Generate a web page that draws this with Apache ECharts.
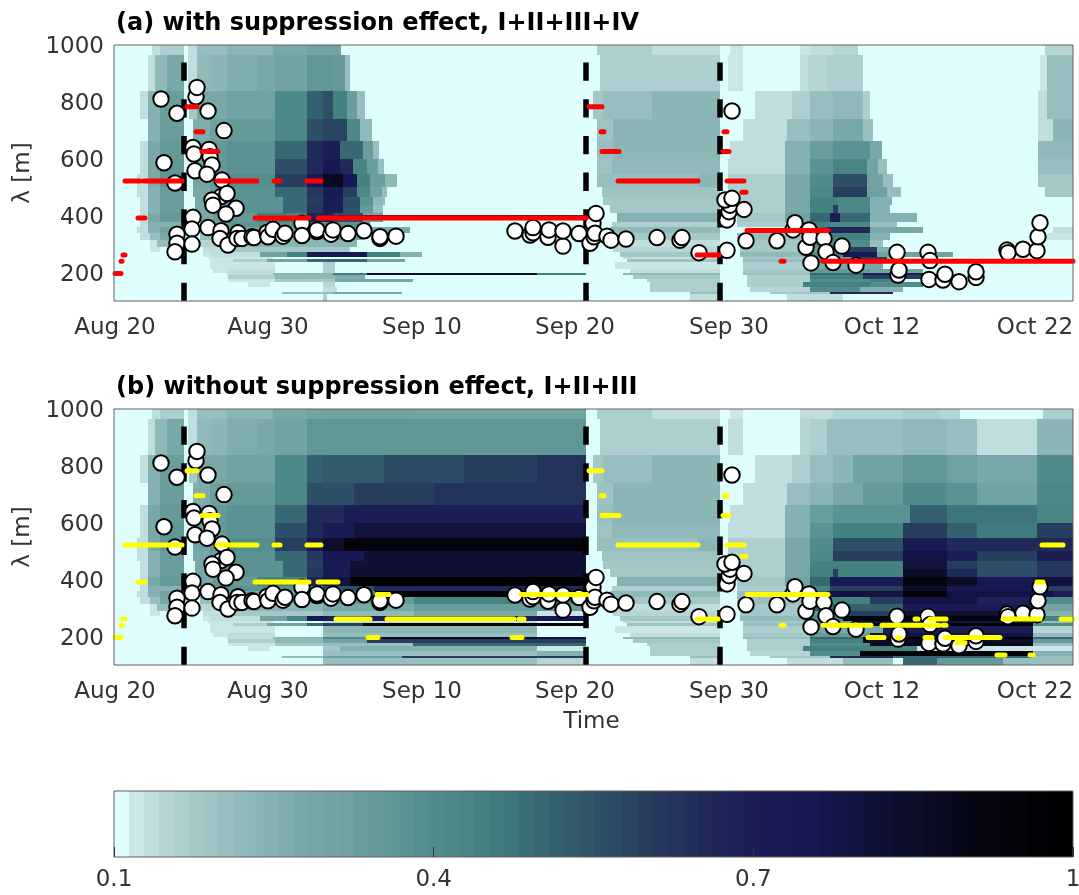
<!DOCTYPE html>
<html><head><meta charset="utf-8">
<style>html,body{margin:0;padding:0;background:#fff}#c{width:1079px;height:895px}canvas{filter:blur(0.45px)}</style>
<script src="https://cdn.jsdelivr.net/npm/echarts@6/dist/echarts.min.js"></script>
</head><body><div id="c"></div>
<script>
// x is a sample index along the (non-calendar) time axis
const tickPos=[1,154,308,461,615,768,921];
const tickLabels=['Aug 20','Aug 30','Sep 10','Sep 20','Sep 30','Oct 12','Oct 22'];
const xMax=959;
const yTicks=[200,400,600,800,1000];
const storms=[70,472,606];
const bandEdges=[1000,965,838,739,662,598,545,502,467,437,411,401,389,379,359,338,314,291,271,256,246,236,211,200,191,177,168,150,133,126,100];
// each row: x0, v, x1, v, x2 ... (v=0 leaves a gap)
const heatRowsA=[
[38,.13,46,.17,70,0,74,.14,83,.2,113,.23,159,.27,193,.31,227,0,483,.16,538,.13,606,0,616,.12,629,0,686,.12,696,.13,719,.15,744,0,931,.15,959],
[34,.13,41,.22,53,.28,70,0,74,.14,83,.22,99,.24,113,.26,143,.27,161,.31,193,.36,219,.35,231,.2,236,0,486,.17,606,0,614,.12,629,0,686,.13,694,.15,713,.17,749,0,926,.12,933,.2,959],
[26,.14,34,.25,46,.33,70,0,75,.18,83,.28,113,.31,161,.41,193,.52,209,.55,219,.45,233,.33,243,.2,251,0,479,.18,489,.2,538,.23,606,0,641,.13,678,.17,696,.2,719,.22,749,.17,756,0,924,.13,933,.21,959],
[34,.25,46,.33,70,0,79,.26,96,.32,113,.34,161,.41,193,.55,209,.58,233,.41,246,.22,258,0,483,.19,499,.23,606,0,629,.13,673,.2,696,.24,719,.28,749,.2,759,0,924,.14,939,.24,959],
[26,.14,34,.27,46,.35,70,0,81,.3,96,.34,113,.37,161,.5,193,.65,209,.7,226,.5,249,.33,259,.2,265,0,483,.2,499,.23,606,0,616,.13,671,.25,696,.33,719,.38,756,.28,768,0,924,.22,959],
[26,.14,34,.27,46,.36,70,0,81,.3,96,.35,113,.38,161,.55,193,.65,209,.75,226,.65,239,.43,253,.33,264,.2,270,0,483,.19,498,.22,606,0,614,.14,671,.25,696,.37,719,.43,753,.3,764,.2,773,0,924,.2,959],
[23,.14,34,.27,46,.36,70,0,79,.31,96,.35,113,.39,161,.6,193,.75,209,.88,229,.75,243,.45,256,.33,271,.22,283,0,483,.2,584,.24,606,0,614,.16,671,.27,696,.4,719,.55,753,.3,769,.2,779,0,924,.18,959],
[23,.14,34,.25,46,.33,70,0,79,.28,96,.33,113,.37,161,.5,193,.62,209,.72,229,.6,243,.42,256,.3,268,.2,273,0,488,.19,606,0,614,.16,671,.27,696,.42,719,.6,753,.32,773,.2,787,0,931,.18,959],
[26,.14,34,.25,46,.33,70,0,81,.28,96,.33,113,.37,169,.5,193,.6,209,.7,229,.55,246,.38,259,.22,271,0,489,.18,606,0,614,.16,671,.27,696,.45,724,.42,756,.25,778],
[26,.14,34,.25,46,.33,70,0,81,.28,96,.34,113,.38,169,.5,193,.62,209,.7,229,.55,246,.35,259,.2,269,0,496,.18,606,0,619,.16,671,.28,696,.45,719,.6,724,.42,756,.25,776],
[26,.14,34,.27,46,.34,70,0,83,.28,99,.35,143,.45,193,.68,219,.55,249,.3,269,0,503,.25,606,0,623,.18,671,.3,696,.5,716,.7,726,.5,756,.25,803],
[26,.14,34,.27,46,.34,70,0,83,.28,99,.35,143,.45,193,.68,219,.7,269,.8,472,0,503,.25,606,0,623,.18,671,.3,696,.5,716,.7,726,.5,756,.25,803],
[26,.14,34,.27,46,.34,70,0,83,.28,99,.35,143,.45,193,.68,219,.55,249,.3,269,0,503,.25,606,0,623,.18,671,.3,696,.5,716,.7,726,.5,756,.25,803],
[26,.14,34,.25,70,0,86,.28,113,.37,256,0,498,.17,606,0,623,.17,673,.3,696,.45,716,.42,756,.2,783],
[23,.14,34,.25,46,.3,70,0,86,.25,103,.31,193,.38,246,.28,296,0,496,.22,606,0,673,.32,696,.5,713,.65,756,.28,809,0,939,.14,959],
[26,.13,36,.2,46,.28,70,0,86,.2,113,.25,193,.3,249,0,496,.18,606,0,623,.2,696,.45,756,.25,776,0,933,.12,959],
[36,.12,43,.2,58,0,86,.15,119,.23,243,0,498,.14,606,0,626,.18,696,.4,756,.2,769],
[36,.12,46,0,89,.14,119,.18,236,0,499,.15,606,0,626,.18,696,.35,729,.6,763,.25,789],
[89,.12,96,.14,146,.3,173,.45,193,.75,253,.45,286,.25,308,0,506,.18,606,0,626,.22,696,.4,729,.75,763,.3,839],
[94,.12,159,0,509,.13,606,0,629,.18,696,.35,743,.6,773,.2,789],
[96,.12,119,.17,153,.3,193,.5,253,.3,291,0,513,.19,606,0,629,.2,696,.45,729,.7,789,.35,823],
[96,.12,114,.12,161,0,209,.16,221,0,501,.12,606,0,629,.16,696,.27,769],
[99,.12,114,.13,161,0,209,.16,221,0,516,.13,606,0,629,.18,696,.35,756,.3,809],
[99,.11,113,.14,159,.24,219,.45,253,.85,423,.45,472,0,509,.22,606,0,629,.2,696,.5,749,.7,809],
[114,.16,161,.22,221,.26,251,0,519,.18,606,0,633,.17,696,.45,749,.6,809],
[114,.12,161,.18,221,.28,299,0,533,.16,606,0,633,.16,696,.4,756,.45,789],
[134,.12,156,0,209,.15,221,0,536,.16,606,0,633,.16,689,.45,756,.4,809],
[209,.14,223,0,536,.16,606,0,636,.15,696,.4,746,.25,789],
[168,.2,219,.27,288,0,576,.2,606,0,656,.18,716,.65,779],
[209,.16,213,0,576,.14,606,0,673,.13,729]
];
// panel (b) is panel (a) repainted where it differs
const heatRowsB=[
[209,.32,300,.3,472,0,606,.1,616,.12,629,.1,686,.13,696,.14,719,.15,789,.17,826,.15,846,.1,929,.16,959],
[209,.36,472,0,606,.1,614,.13,629,.1,686,.15,696,.17,713,.2,789,.22,833,.2,863,.14,923,.24,959],
[209,.53,270,.57,350,.6,423,.63,472,0,606,.1,641,.13,678,.17,696,.2,719,.24,739,.3,789,.36,833,.32,863,.28,923,.4,959],
[209,.55,240,.6,320,.63,472,0,606,.1,629,.13,673,.2,696,.24,719,.28,749,.34,789,.4,833,.37,863,.3,923,.42,959],
[209,.65,230,.7,472,0,606,.1,616,.14,671,.25,696,.33,719,.38,796,.52,833,.47,923,.43,959],
[209,.72,240,.8,472,0,606,.1,614,.14,671,.25,696,.38,719,.44,789,.6,833,.52,863,.46,923,.6,959],
[209,.85,230,.95,472,0,606,.1,614,.16,671,.27,696,.4,719,.55,789,.72,833,.65,923,.65,959],
[209,.75,250,.82,472,0,606,.1,614,.16,671,.27,696,.42,719,.6,789,.78,833,.7,863,.6,923,.7,959],
[209,.72,236,.82,472,0,606,.1,614,.16,671,.27,696,.45,724,.45,789,.8,833,.6,863,.55,923,.62,959],
[209,.72,236,.82,472,0,606,.1,619,.16,671,.28,696,.45,719,.6,724,.45,789,.85,833,.65,863,.55,923,.62,959],
[209,.78,236,.98,472,0,606,.1,623,.18,671,.3,696,.5,716,.72,789,.92,833,.85,863,.75,923,.8,959],
[209,.78,236,.98,472,0,606,.1,623,.18,671,.3,696,.5,716,.72,789,.92,833,.85,863,.75,923,.8,959],
[209,.78,236,.98,472,0,606,.1,623,.18,671,.3,696,.5,716,.72,789,.92,833,.85,863,.75,923,.8,959],
[209,.55,260,.65,472,0,606,.1,623,.17,673,.3,696,.45,716,.6,789,.85,833,.75,923,.6,959],
[209,.45,261,.95,472,0,606,.1,623,.2,673,.32,696,.5,713,.78,789,.95,833,.78,939,.7,959],
[209,.35,300,.43,472,0,606,.1,623,.2,696,.45,756,.6,789,.78,863,.68,923,.4,959],
[209,.28,300,.33,472,0,606,.1,626,.18,696,.52,789,.72,923,.3,959],
[209,.22,300,.28,423,.12,472,0,606,.1,626,.18,696,.35,729,.6,789,.82,919,.25,959],
[209,.7,423,.75,472,0,606,.1,626,.22,696,.4,729,.95,919,.45,959],
[209,.13,423,.1,472,0,606,.1,629,.18,696,.35,743,.8,919,.2,959],
[209,.6,249,.95,472,0,606,.1,629,.2,696,.45,729,.95,919,.4,959],
[209,.23,423,.1,472,0,606,.1,629,.16,696,.27,769,.7,919,.15,959],
[209,.2,423,.1,472,0,606,.1,629,.18,696,.35,756,.8,919,.2,959],
[209,.4,253,.85,423,.8,472,0,606,.1,629,.2,696,.5,749,.95,919,.5,959],
[209,.3,253,.6,472,0,606,.1,633,.17,696,.45,749,.85,919,.35,959],
[209,.2,299,.5,472,0,606,.1,633,.16,696,.4,756,.9,919,.2,959],
[209,.18,226,.25,423,.12,472,0,606,.1,633,.16,689,.45,803,.12,959],
[209,.2,423,.25,472,0,606,.1,636,.15,696,.4,746,.95,919,.25,959],
[209,.3,288,.6,472,0,606,.1,656,.18,716,.65,779,.5,919,.2,959],
[209,.2,423,.15,472,0,606,.1,673,.13,729,.2,779,.1,789,.5,823,.35,889,.2,959]
];
const obsCircles=[[47,810],[63,760],[82,818],[83,851],[94,768],[110,699],[79,640],[80,617],[95,633],[96,607],[50,586],[98,578],[81,558],[93,546],[61,515],[108,525],[107,467],[113,478],[98,455],[99,437],[122,426],[112,406],[79,394],[78,353],[63,335],[63,303],[78,300],[61,273],[94,358],[107,347],[106,320],[114,297],[124,340],[123,320],[128,320],[138,326],[140,323],[153,341],[154,326],[159,352],[169,328],[171,338],[188,373],[188,330],[203,344],[203,350],[217,335],[219,350],[234,337],[250,347],[266,320],[266,326],[282,328],[401,346],[416,332],[419,340],[419,358],[434,324],[435,350],[449,293],[449,346],[465,337],[476,303],[479,373],[480,326],[481,338],[482,408],[493,328],[497,314],[512,318],[543,323],[566,314],[568,323],[585,270],[613,278],[613,385],[615,414],[616,437],[611,455],[618,461],[630,422],[618,768],[632,312],[663,312],[679,350],[681,375],[692,289],[695,350],[696,324],[710,320],[712,273],[697,234],[719,235],[728,293],[742,226],[783,271],[784,191],[785,209],[814,271],[816,242],[815,176],[829,174],[831,194],[845,168],[862,183],[862,203],[893,279],[894,270],[909,282],[923,277],[924,326],[926,375]];
// [x0,x1,lambda]
const redPeaks=[[1,7,197],[7,8,240],[9,11,262],[11,26,522],[30,68,522],[103,143,522],[160,166,522],[193,207,522],[73,83,783],[82,89,695],[88,104,626],[24,31,392],[141,162,392],[164,195,392],[204,472,392],[475,488,783],[487,490,695],[488,505,626],[504,584,522],[583,605,262],[610,613,695],[609,615,626],[613,630,522],[628,632,482],[633,714,348],[667,670,240],[709,959,240]];
const yellowPeaks=[[1,7,197],[7,8,240],[9,11,262],[11,26,522],[30,68,522],[103,143,522],[160,166,522],[193,207,522],[73,83,783],[82,89,695],[88,104,626],[24,31,392],[141,162,392],[164,195,392],[204,224,392],[263,275,348],[222,256,262],[273,400,262],[405,410,262],[254,264,197],[398,408,197],[407,473,348],[475,488,783],[487,490,695],[488,505,626],[504,584,522],[583,604,262],[610,613,695],[609,615,626],[613,630,522],[628,632,482],[633,714,348],[667,670,240],[709,757,240],[768,825,240],[754,770,197],[829,832,240],[801,804,262],[816,832,262],[811,818,197],[831,886,197],[843,851,178],[784,786,197],[883,891,135],[916,919,135],[889,926,262],[923,929,392],[928,949,522],[947,959,262]];
const colorTicks=[0.1,0.4,0.7,1];
const cmapAnchors=[[0,'#dfffff'],[1,'#cbe6e6'],[2,'#c0dedd'],[3,'#b6d5d5'],[5,'#a4c8c8'],[8,'#90baba'],[12,'#78a8a8'],[16,'#6a9e9d'],[20,'#558f8d'],[24,'#43827f'],[27,'#3b6f78'],[30,'#315a6c'],[33,'#2b4a64'],[36,'#26385d'],[39,'#1f2a58'],[42,'#1a1e55'],[46,'#181855'],[49,'#11123d'],[53,'#0c0d28'],[57,'#060712'],[63,'#000000']];

function hex(c){return [1,3,5].map(i=>parseInt(c.substr(i,2),16));}
const cmap=[];
for(let i=0;i<cmapAnchors.length-1;i++){
  const [a,ca]=cmapAnchors[i],[b,cb]=cmapAnchors[i+1],A=hex(ca),B=hex(cb);
  for(let k=a;k<b;k++){const t=(k-a)/(b-a);cmap[k]='rgb('+A.map((v,j)=>Math.round(v+(B[j]-v)*t)).join(',')+')';}
}
cmap[63]='#000000';
function colorOf(v){return cmap[Math.max(0,Math.min(63,Math.floor((v-.1)/.9*64)))];}

function cells(rows){
  const out=[];
  rows.forEach((r,b)=>{
    for(let i=1;i+1<r.length;i+=2){
      if(r[i]>0) out.push([r[i-1],r[i+1],bandEdges[b],bandEdges[b+1],r[i]]);
    }
  });
  return out;
}
function renderCell(p,api){
  const a=api.coord([api.value(0),api.value(2)]),b=api.coord([api.value(1),api.value(3)]);
  const x=Math.round(a[0]),y=Math.round(a[1]);
  return {type:'rect',shape:{x:x,y:y,width:Math.round(b[0])-x,height:Math.max(1,Math.round(b[1])-y)},
    style:{fill:colorOf(api.value(4))},silent:true};
}
function heat(data,ax,z){return {type:'custom',xAxisIndex:ax,yAxisIndex:ax,data:data,renderItem:renderCell,
  encode:{x:[0,1],y:[2,3]},z:z,clip:true,silent:true,animation:false,progressive:0};}
function segLine(segs,color,ax,w){
  const d=[];segs.forEach(s=>{d.push([s[0],s[2]],[s[1],s[2]],[NaN,NaN]);});
  return {type:'line',xAxisIndex:ax,yAxisIndex:ax,data:d,showSymbol:false,symbol:'none',connectNulls:false,
    lineStyle:{color:color,width:w,cap:'round'},z:8,silent:true,animation:false};
}
function dashes(ax){return storms.map(x=>({type:'line',xAxisIndex:ax,yAxisIndex:ax,data:[[x,100],[x,1000]],showSymbol:false,symbol:'none',
  lineStyle:{color:'#000',width:5.5,type:[18.3,18.4]},z:6,silent:true,animation:false,clip:false}));}
function circles(ax){return {type:'scatter',xAxisIndex:ax,yAxisIndex:ax,data:obsCircles,symbol:'circle',symbolSize:15.5,
  itemStyle:{color:'#fff',borderColor:'#000',borderWidth:2,opacity:1},z:7,silent:true,animation:false};}
function frame(ax,x0,x1,y0,y1){return {type:'line',xAxisIndex:ax,yAxisIndex:ax,data:[[x0,y0],[x1,y0],[x1,y1],[x0,y1],[x0,y0]],showSymbol:false,symbol:'none',
  lineStyle:{color:'#606060',width:1},z:9,silent:true,animation:false,clip:false};}

const txt='#333333',font='DejaVu Sans',fs=23;
function xA(idx,named){return {type:'value',gridIndex:idx,min:0,max:xMax,
  axisLine:{show:false},axisTick:{show:false},splitLine:{show:false},
  axisLabel:{customValues:tickPos,color:txt,fontFamily:font,fontSize:fs,margin:16,formatter:v=>tickLabels[tickPos.indexOf(v)]||'',hideOverlap:false},
  ...(named?{name:'Time',nameLocation:'middle',nameGap:46,nameTextStyle:{color:txt,fontFamily:font,fontSize:fs,padding:[0,4,0,0]}}:{})};}
function yA(idx){return {type:'value',gridIndex:idx,min:100,max:1000,
  axisLine:{show:false},axisTick:{show:false},splitLine:{show:false},
  axisLabel:{customValues:yTicks,color:txt,fontFamily:font,fontSize:fs,margin:10,verticalAlign:'top',lineHeight:5,formatter:v=>String(v)},
  name:'λ [m]',nameLocation:'middle',nameRotate:90,nameGap:77,nameTextStyle:{color:txt,fontFamily:font,fontSize:fs}};}

const cbData=cmap.map((c,i)=>[0.1+0.9*i/64,0.1+0.9*(i+1)/64,i]);
const chart=echarts.init(document.getElementById('c'),null,{renderer:'canvas'});
chart.setOption({
  animation:false,backgroundColor:'#fff',
  title:[
    {text:'(a) with suppression effect, I+II+III+IV',left:111,top:7,textStyle:{fontFamily:font,fontWeight:'bold',fontSize:24,color:'#000'}},
    {text:'(b) without suppression effect, I+II+III',left:111,top:371,textStyle:{fontFamily:font,fontWeight:'bold',fontSize:24,color:'#000'}}
  ],
  grid:[
    {left:114,top:45,width:959,height:256,show:true,backgroundColor:'#dfffff',borderWidth:0,outerBoundsMode:'none'},
    {left:114,top:409,width:959,height:256,show:true,backgroundColor:'#dfffff',borderWidth:0,outerBoundsMode:'none'},
    {left:114,top:791,width:959,height:66,show:false,outerBoundsMode:'none'}
  ],
  xAxis:[xA(0,false),xA(1,true),
    {type:'value',gridIndex:2,min:0.1,max:1,axisLine:{show:false},splitLine:{show:false},
     axisTick:{show:true,customValues:colorTicks,inside:true,length:10,lineStyle:{color:'#333',width:1}},
     axisLabel:{customValues:colorTicks,color:txt,fontFamily:font,fontSize:fs,margin:12,hideOverlap:false,formatter:v=>String(v)},z:10}],
  yAxis:[yA(0),yA(1),{type:'value',gridIndex:2,min:0,max:1,show:false}],
  series:[
    heat(cells(heatRowsA),0,2),
    ...dashes(0),circles(0),segLine(redPeaks,'#ff0000',0,5),frame(0,0,xMax,100,1000),
    heat(cells(heatRowsA),1,2),heat(cells(heatRowsB),1,3),
    ...dashes(1),circles(1),segLine(yellowPeaks,'#ffff00',1,5),frame(1,0,xMax,100,1000),
    {type:'custom',xAxisIndex:2,yAxisIndex:2,data:cbData,encode:{x:[0,1]},silent:true,animation:false,z:2,
     renderItem:(p,api)=>{const a=api.coord([api.value(0),1]),b=api.coord([api.value(1),0]);
       const x=Math.round(a[0]);
       return {type:'rect',shape:{x:x,y:a[1],width:Math.round(b[0])-x,height:b[1]-a[1]},style:{fill:cmap[api.value(2)]}};}},
    frame(2,0.1,1,0,1)
  ]
});
</script></body></html>
